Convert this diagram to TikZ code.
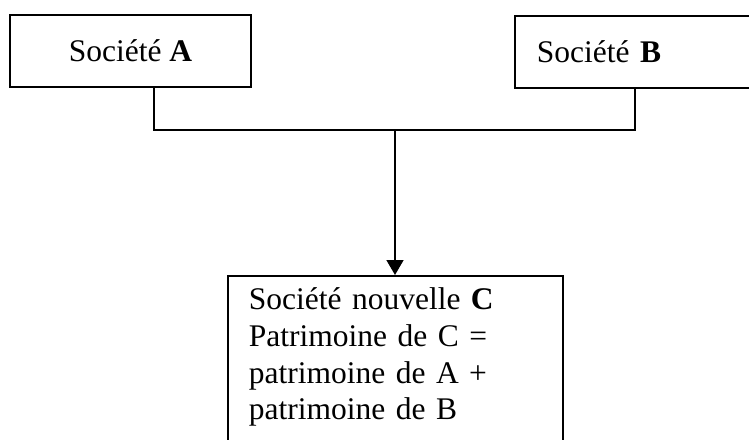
\documentclass[tikz,border=0pt]{standalone}
\usepackage{fontspec}
\setmainfont{Liberation Serif}
\usetikzlibrary{arrows.meta}
\tikzset{
  box/.style={draw, line width=1.6pt, rectangle, inner ysep=0pt,
              font=\fontsize{31.5}{36.7}\selectfont},
  link/.style={line width=1.6pt},
}
\begin{document}
\begin{tikzpicture}[x=1pt,y=-1pt]
  \useasboundingbox (0,0) rectangle (749,439);
  \clip (0,0) rectangle (749,439);

  % the two merging companies
  \node[box, minimum width=241pt, minimum height=72pt, inner xsep=0pt]
    (A) at (130.5,51) {Société \textbf{A}};
  \node[box, anchor=north west, minimum height=72pt, text width=210pt,
        inner xsep=22pt, align=left]
    (B) at (514,15) {Société \textbf{B}};

  % the new company (its box runs past the lower edge)
  \node[box, anchor=north west, text width=293pt, inner xsep=21pt,
        inner ysep=12pt, align=left, text depth=135pt]
    (C) at (227,275) {Société nouvelle \textbf{C}\\
      Patrimoine de C =\\
      patrimoine de A +\\
      patrimoine de B};

  % junction points of the connector
  \coordinate (ja) at (154,130);
  \coordinate (jb) at (635,130);
  \coordinate (jm) at (395,130);

  \draw[link] (A.south -| ja) -- (ja) -- (jb) -- (B.south -| jb);
  \draw[link, -{Triangle[length=15pt, width=17pt]}] (jm) -- (C.north -| jm);
\end{tikzpicture}
\end{document}
